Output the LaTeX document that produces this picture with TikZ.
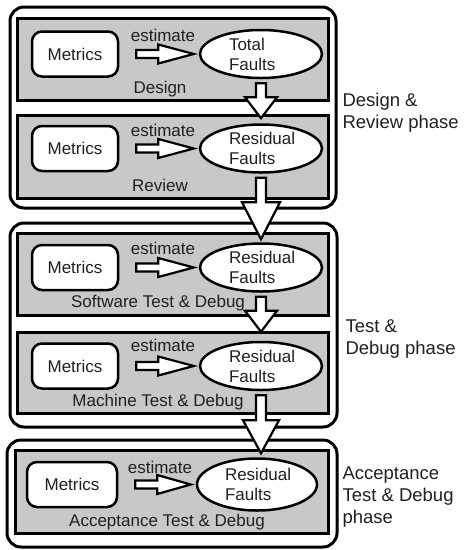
\documentclass[tikz,border=0pt]{standalone}
\usepackage{fontspec}
\setmainfont{Liberation Sans}
\usetikzlibrary{calc,shapes.geometric}
\definecolor{boxgray}{HTML}{C8C8C8}
\definecolor{txt}{HTML}{231F20}

\newcommand{\hblock}[2]{%
  \path (#1.east) ++(17,0) coordinate (hs);
  \path (#2.west) ++(-5,0) coordinate (ht0);
  \coordinate (ht) at (ht0 |- hs);
  \draw[blockarrow] ($(hs)+(0,-4)$) -- ($(hs)+(22,-4)$) -- ($(hs)+(22,-9.5)$) -- (ht)
    -- ($(hs)+(22,9.5)$) -- ($(hs)+(22,4)$) -- ($(hs)+(0,4)$) -- cycle;
}
% from, to, head length, head half width, tip gap
\newcommand{\vblock}[5]{%
  \path (#1.south) ++(0,4) coordinate (vs);
  \path (#2.north) ++(0,-#5) coordinate (vt0);
  \coordinate (vt) at (vs |- vt0);
  \draw[blockarrow] ($(vs)+(-5,0)$) -- ($(vt)+(-5,-#3)$) -- ($(vt)+(-#4,-#3)$) -- (vt)
    -- ($(vt)+(#4,-#3)$) -- ($(vt)+(5,-#3)$) -- ($(vs)+(5,0)$) -- cycle;
}

\begin{document}
\begin{tikzpicture}[x=1pt,y=-1pt,
  every node/.style={font=\fontsize{17}{20}\selectfont, text=txt},
  phasebox/.style={draw, line width=3pt, rounded corners=14pt, inner sep=0pt},
  stagebox/.style={draw, line width=3pt, fill=boxgray, inner sep=0pt},
  metricsbox/.style={draw, line width=2.5pt, fill=white, rounded corners=10pt,
    minimum width=86pt, minimum height=45pt, inner sep=0pt},
  faultnode/.style={draw, ellipse, line width=2.5pt, fill=white,
    minimum width=122pt, minimum height=48pt, inner sep=0pt,
    text width=64pt, align=left, font=\fontsize{17}{20}\selectfont},
  blockarrow/.style={draw, line width=2.2pt, fill=white, line join=miter},
  phaselabel/.style={anchor=west, align=left, font=\fontsize{18.5}{22}\selectfont}
]
\useasboundingbox (0,0) rectangle (464,550);

% phase frames
\node[phasebox, minimum width=326pt, minimum height=201pt] (phase1) at (173,107.5) {};
\node[phasebox, minimum width=327pt, minimum height=204pt] (phase2) at (173.5,325) {};
\node[phasebox, minimum width=330pt, minimum height=107pt] (phase3) at (172,493.5) {};

% stage boxes
\node[stagebox, minimum width=311pt, minimum height=82pt] (design) at (172.5,59) {};
\node[stagebox, minimum width=311pt, minimum height=83pt] (review) at (172.5,156.5) {};
\node[stagebox, minimum width=311pt, minimum height=82pt] (swtest) at (172.5,274) {};
\node[stagebox, minimum width=311pt, minimum height=81pt] (mtest) at (172.5,372.5) {};
\node[stagebox, minimum width=313pt, minimum height=83pt] (acctest) at (171.5,491.5) {};

% stage labels
\node (ldesign) at (160,89) {Design};
\node (lreview) at (160,185) {Review};
\node (lsw) at (158,303) {Software Test \& Debug};
\node (lm) at (158,402) {Machine Test \& Debug};
\node (lacc) at (167,522) {Acceptance Test \& Debug};

% metrics and faults
\node[metricsbox] (m1) at (75,54) {Metrics};
\node[faultnode] (f1) at (261,54) {Total\\Faults};
\node[metricsbox] (m2) at (75,148.5) {Metrics};
\node[faultnode] (f2) at (261,148.5) {Residual\\Faults};
\node[metricsbox] (m3) at (75,267.5) {Metrics};
\node[faultnode] (f3) at (261,267.5) {Residual\\Faults};
\node[metricsbox] (m4) at (75,366) {Metrics};
\node[faultnode] (f4) at (261,366) {Residual\\Faults};
\node[metricsbox, minimum width=90pt] (m5) at (72,484.5) {Metrics};
\node[faultnode, minimum width=120pt, minimum height=52pt] (f5) at (257,484.5) {Residual\\Faults};

% estimate labels
\node (e1) at (163,35) {estimate};
\node (e2) at (163,130) {estimate};
\node (e3) at (163,248) {estimate};
\node (e4) at (163,345) {estimate};
\node (e5) at (160,467) {estimate};

% horizontal block arrows
\hblock{m1}{f1}
\hblock{m2}{f2}
\hblock{m3}{f3}
\hblock{m4}{f4}
\hblock{m5}{f5}

% vertical block arrows
\vblock{f1}{f2}{21}{16}{5}
\vblock{f2}{f3}{37}{19}{3}
\vblock{f3}{f4}{21}{16}{9}
\vblock{f4}{f5}{33}{18}{4}

% phase labels
\node[phaselabel] (p1) at (339,113) {Design \&\\Review phase};
\node[phaselabel] (p2) at (342,339) {Test \&\\Debug phase};
\node[phaselabel] (p3) at (339,497) {Acceptance\\Test \& Debug\\phase};
\end{tikzpicture}
\end{document}
